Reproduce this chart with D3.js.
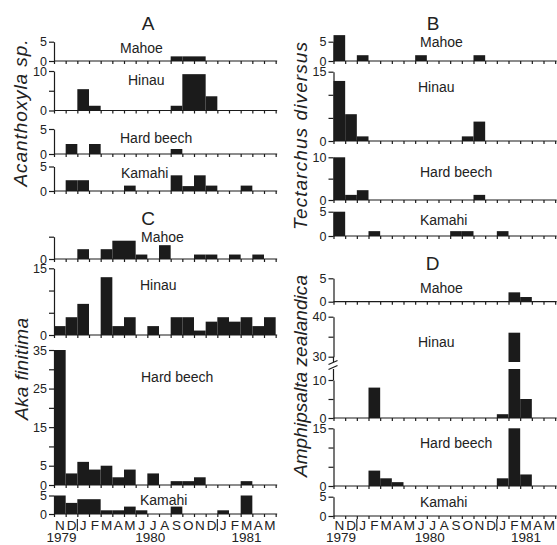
<!DOCTYPE html>
<html><head><meta charset="utf-8">
<script src="https://cdn.jsdelivr.net/npm/d3@7"></script>
<style>
body{margin:0;background:#fff}
svg text{font-family:"Liberation Sans",Arial,sans-serif;fill:#222}
</style>
</head><body>
<svg id="chart" width="557" height="545"></svg>
<script>
// ---------- data ----------
const months = ["N","D","J","F","M","A","M","J","J","A","S","O","N","D","J","F","M","A","M"];
const years = ["1979","1980","1981"];
const hosts = ["Mahoe","Hinau","Hard beech","Kamahi"];
const panelLetters = ["A","B","C","D"];
const species = ["Acanthoxyla sp.","Tectarchus diversus","Aka finitima","Amphipsalta zealandica"];

const acanthoxylaMahoe     = [0,0,0,0,0,0,0,0,0,0,1.2,1.2,1.2,0,0,0,0,0,0];
const acanthoxylaHinau     = [0,0,5.4,1.2,0,0,0,0,0,0,1.2,9.2,9.2,3.6,0,0,0,0,0];
const acanthoxylaHardBeech = [0,2,0,2,0,0,0,0,0,0,1,0,0,0,0,0,0,0,0];
const acanthoxylaKamahi    = [0,2.2,2.2,0,0,0,1.1,0,0,0,3.2,1,3.2,1.1,0,0,1.1,0,0];

const tectarchusMahoe      = [6.7,0,1.5,0,0,0,0,1.5,0,0,0,0,1.5,0,0,0,0,0,0];
const tectarchusHinau      = [13,5.8,1,0,0,0,0,0,0,0,0,1,4.2,0,0,0,0,0,0];
const tectarchusHardBeech  = [10,1.2,2.3,0,0,0,0,0,0,0,0,0,1.2,0,0,0,0,0,0];
const tectarchusKamahi     = [5,0,0,1,0,0,0,0,0,0,1,1,0,0,1,0,0,0,0];

const akaMahoe             = [0,0,2.2,0,2.2,4.1,4.1,1,0,3.1,0,0,1,1,0,1,0,1,0];
const akaHinau             = [2,4,7,0,13,2,4,0,2,0,4,4,1,3,4,3,4,2,4];
const akaHardBeech         = [35,3,6,4,5,2,4,0,3,0,1,1,2,0,0,0,1,0,0];
const akaKamahi            = [5,3,4,4,1,1,2,1,0,0,2,0,0,0,1,0,5,0,0];

const amphipsaltaMahoe     = [0,0,0,0,0,0,0,0,0,0,0,0,0,0,0,2,1,0,0];
const amphipsaltaHinau     = [0,0,0,8,0,0,0,0,0,0,0,0,0,0,1,36,5,0,0];
const amphipsaltaHardBeech = [0,0,0,4,2,1,0,0,0,0,0,0,0,0,2,15,3,0,0];
const amphipsaltaKamahi    = [0,0,0,0,0,0,0,0,0,0,0,0,0,0,0,0,0,0,0];

// ---------- layout ----------
const MW = 35/3;              // month width in px
const INK = "#1b1b1b";
const svg = d3.select("#chart");

const panels = [
  {x0:54, title:[148,30], sp:{x:27,cy:113,len:147}, subs:[
    {data:acanthoxylaMahoe, y0:61, yTop:41.7, top:5, ticks:[0,5], lab:[0,5], lx:120, ly:53},
    {data:acanthoxylaHinau, y0:110.5, yTop:71, top:10, ticks:[0,5,10], lab:[0,10], lx:128, ly:85},
    {data:acanthoxylaHardBeech, y0:154, yTop:129, top:5, ticks:[0,5], lab:[0,5], lx:120, ly:143},
    {data:acanthoxylaKamahi, y0:191, yTop:166.5, top:5, ticks:[0,5], lab:[0,5], lx:121, ly:178}
  ]},
  {x0:333.5, title:[433,30], sp:{x:307,cy:136,len:188}, subs:[
    {data:tectarchusMahoe, y0:61, yTop:41.7, top:5, ticks:[0,5], lab:[0,5], lx:420, ly:46.7},
    {data:tectarchusHinau, y0:141, yTop:71.7, top:15, ticks:[0,5,10,15], lab:[0,15], lx:418, ly:92},
    {data:tectarchusHardBeech, y0:200, yTop:157.3, top:10, ticks:[0,5,10], lab:[0,10], lx:420, ly:177},
    {data:tectarchusKamahi, y0:236, yTop:211.7, top:5, ticks:[0,5], lab:[0,5], lx:420, ly:225}
  ]},
  {x0:54, title:[148,225], sp:{x:28,cy:369,len:102}, bottom:true, subs:[
    {data:akaMahoe, y0:259, yTop:236.7, top:5, ticks:[0,5], lab:[0], lx:141, ly:241.7},
    {data:akaHinau, y0:335, yTop:268.3, top:15, ticks:[0,5,10,15], lab:[0,15], lx:140, ly:290},
    {data:akaHardBeech, y0:485, yTop:350, top:35, ticks:[0,5,10,15,20,25,30,35], lab:[0,5,15,25,35], lx:141, ly:381.7},
    {data:akaKamahi, y0:514, yTop:495.5, top:5, ticks:[0,5], lab:[0,5], lx:140, ly:505}
  ]},
  {x0:333.5, title:[432.5,270], sp:{x:307,cy:376,len:202}, bottom:true, subs:[
    {data:amphipsaltaMahoe, y0:301.7, yTop:278.3, top:5, ticks:[0,5], lab:[0,5], lx:420, ly:293},
    {data:amphipsaltaHinau, y0:418, yTop:380, top:10, ticks:[0,5,10], lab:[0,10], lx:418, ly:346.7,
      brk:{lowTop:369, upBot:362, u30:356.7, u40:316.7}},
    {data:amphipsaltaHardBeech, y0:486, yTop:428.3, top:15, ticks:[0,5,10,15], lab:[0,15], lx:420, ly:448},
    {data:amphipsaltaKamahi, y0:516, yTop:496.7, top:5, ticks:[0,5], lab:[0,5], lx:420, ly:506.7}
  ]}
];

function styleAxis(g){
  g.selectAll("path,line").attr("stroke",INK).attr("stroke-width",1.2);
  g.selectAll("text").attr("font-size",12.5).attr("font-family","Liberation Sans, Arial, sans-serif").attr("fill","#222");
}

panels.forEach((p,pi)=>{
  const g = svg.append("g");
  const x1 = p.x0 + months.length*MW;
  const xi = d3.scaleLinear().domain([0, months.length]).range([p.x0, x1]);
  const xb = d3.scaleBand().domain(d3.range(months.length)).range([p.x0, x1]).padding(0);

  // title
  g.append("text").attr("x",p.title[0]).attr("y",p.title[1]).attr("text-anchor","middle")
    .attr("font-size",19).text(panelLetters[pi]);
  // species label
  g.append("text").attr("transform",`translate(${p.sp.x},${p.sp.cy}) rotate(-90)`)
    .attr("text-anchor","middle").attr("font-size",19).attr("font-style","italic")
    .attr("textLength",p.sp.len).attr("lengthAdjust","spacing").text(species[pi]);

  p.subs.forEach((s,si)=>{
    const sg = g.append("g");
    const y = d3.scaleLinear().domain([0,s.top]).range([s.y0,s.yTop]);
    let yU = null;
    if (s.brk) yU = d3.scaleLinear().domain([30,40]).range([s.brk.u30,s.brk.u40]);

    // bars
    s.data.forEach((v,i)=>{
      if (v<=0) return;
      if (s.brk && v>s.top){
        sg.append("rect").attr("x",xb(i)).attr("width",xb.bandwidth())
          .attr("y",s.brk.lowTop).attr("height",s.y0-s.brk.lowTop).attr("fill",INK);
        sg.append("rect").attr("x",xb(i)).attr("width",xb.bandwidth())
          .attr("y",yU(v)).attr("height",s.brk.upBot-yU(v)).attr("fill",INK);
      } else {
        sg.append("rect").attr("x",xb(i)).attr("width",xb.bandwidth())
          .attr("y",y(v)).attr("height",s.y0-y(v)).attr("fill",INK);
      }
    });

    // x axis
    const xa = sg.append("g").attr("transform",`translate(0,${s.y0})`)
      .call(d3.axisBottom(xi).tickValues(d3.range(months.length+1)).tickSize(3).tickSizeOuter(0).tickFormat(""));
    xa.select(".domain").attr("d",`M${p.x0},0H${x1+1.5}`);
    styleAxis(xa);

    // y axis
    const ya = sg.append("g").attr("transform",`translate(${p.x0},0)`)
      .call(d3.axisLeft(y).tickValues(s.ticks).tickSize(5).tickSizeOuter(0).tickPadding(2)
        .tickFormat(d=> s.lab.includes(d) ? d : ""));
    styleAxis(ya);
    if (s.brk){
      sg.append("line").attr("x1",p.x0).attr("x2",p.x0).attr("y1",s.yTop).attr("y2",s.brk.lowTop)
        .attr("stroke",INK).attr("stroke-width",1.2);
      const ua = sg.append("g").attr("transform",`translate(${p.x0},0)`)
        .call(d3.axisLeft(yU).tickValues([30,35,40]).tickSize(5).tickSizeOuter(0).tickPadding(2)
          .tickFormat(d=> (d===30||d===40) ? d : ""));
      styleAxis(ua);
      sg.append("line").attr("x1",p.x0).attr("x2",p.x0).attr("y1",s.brk.u30).attr("y2",s.brk.upBot)
        .attr("stroke",INK).attr("stroke-width",1.2);
      // break marks
      [s.brk.upBot+0.5, s.brk.lowTop-1.5].forEach(yy=>{
        sg.append("line").attr("x1",p.x0-5).attr("x2",p.x0+4).attr("y1",yy+2).attr("y2",yy-2)
          .attr("stroke",INK).attr("stroke-width",1.2);
      });
    }

    // host label
    sg.append("text").attr("x",s.lx).attr("y",s.ly).attr("font-size",14).text(hosts[si]);
  });

  if (p.bottom){
    const xg = g.append("g");
    xg.selectAll("text.m").data(months).join("text").attr("class","m")
      .attr("x",(d,i)=>xb(i)+MW/2).attr("y",530).attr("text-anchor","middle")
      .attr("font-size",13.5).text(d=>d);
    [2,14].forEach(b=>{
      xg.append("line").attr("x1",xi(b)).attr("x2",xi(b)).attr("y1",519).attr("y2",531)
        .attr("stroke",INK).attr("stroke-width",1.1);
    });
    const yearPos = [0.65, 8.25, 16.5];
    xg.selectAll("text.y").data(years).join("text").attr("class","y")
      .attr("x",(d,i)=>xi(yearPos[i])).attr("y",542).attr("text-anchor","middle")
      .attr("font-size",13.5).text(d=>d);
  }
});
</script>
</body></html>
